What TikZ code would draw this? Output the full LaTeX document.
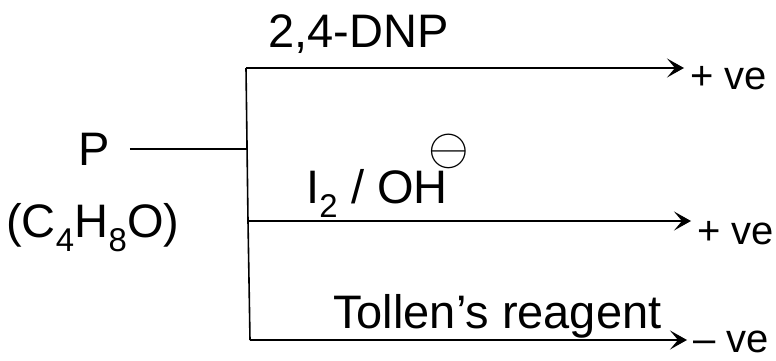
\documentclass[tikz,border=0pt]{standalone}
\usepackage{fontspec}
\setmainfont{Liberation Sans}
\usetikzlibrary{arrows.meta}
\begin{document}
\begin{tikzpicture}[x=1pt,y=-1pt,
  lbl/.style={inner sep=0pt, anchor=base west, font=\fontsize{47}{50}\selectfont},
  res/.style={inner sep=0pt, anchor=base west, font=\fontsize{40}{44}\selectfont},
  wire/.style={line width=1.6pt},
  flow/.style={wire, shorten >=6pt, -{Stealth[length=17pt,width=19pt,inset=8pt]}}]
\useasboundingbox (0,0) rectangle (776,361);

% compound
\node[lbl] (P) at (78,165) {P};
\node[lbl] (formula) at (6,237) {(C\textsubscript{4}H\textsubscript{8}O)};

% reagents
\node[lbl] (dnp) at (268,48) {2,4-DNP};
\node[lbl] (iodo) at (306,203) {I\textsubscript{2} / OH\hspace{-19pt}\raisebox{39pt}{\scalebox{2.1}{$\ominus$}}};
\node[lbl] (tollen) at (333,328) {Tollen's reagent};

% results
\node[res] (r1) at (690,89) {+ ve};
\node[res] (r2) at (697,244) {+ ve};
\node[res] (r3) at (693,352) {– ve};

% branching lines
\coordinate (j) at (247,146);
\coordinate (b1) at (246,68);
\coordinate (b2) at (248,221);
\coordinate (b3) at (250,340);

\draw[wire, shorten <=20pt] (P.east) -- (P.east -| j);
\draw[wire] (b1) -- (b2) -- (b3);
\draw[flow] (b1) -- (b1 -| r1.west);
\draw[flow] (b2) -- (b2 -| r2.west);
\draw[flow] (b3) -- (b3 -| r3.west);
\end{tikzpicture}
\end{document}
